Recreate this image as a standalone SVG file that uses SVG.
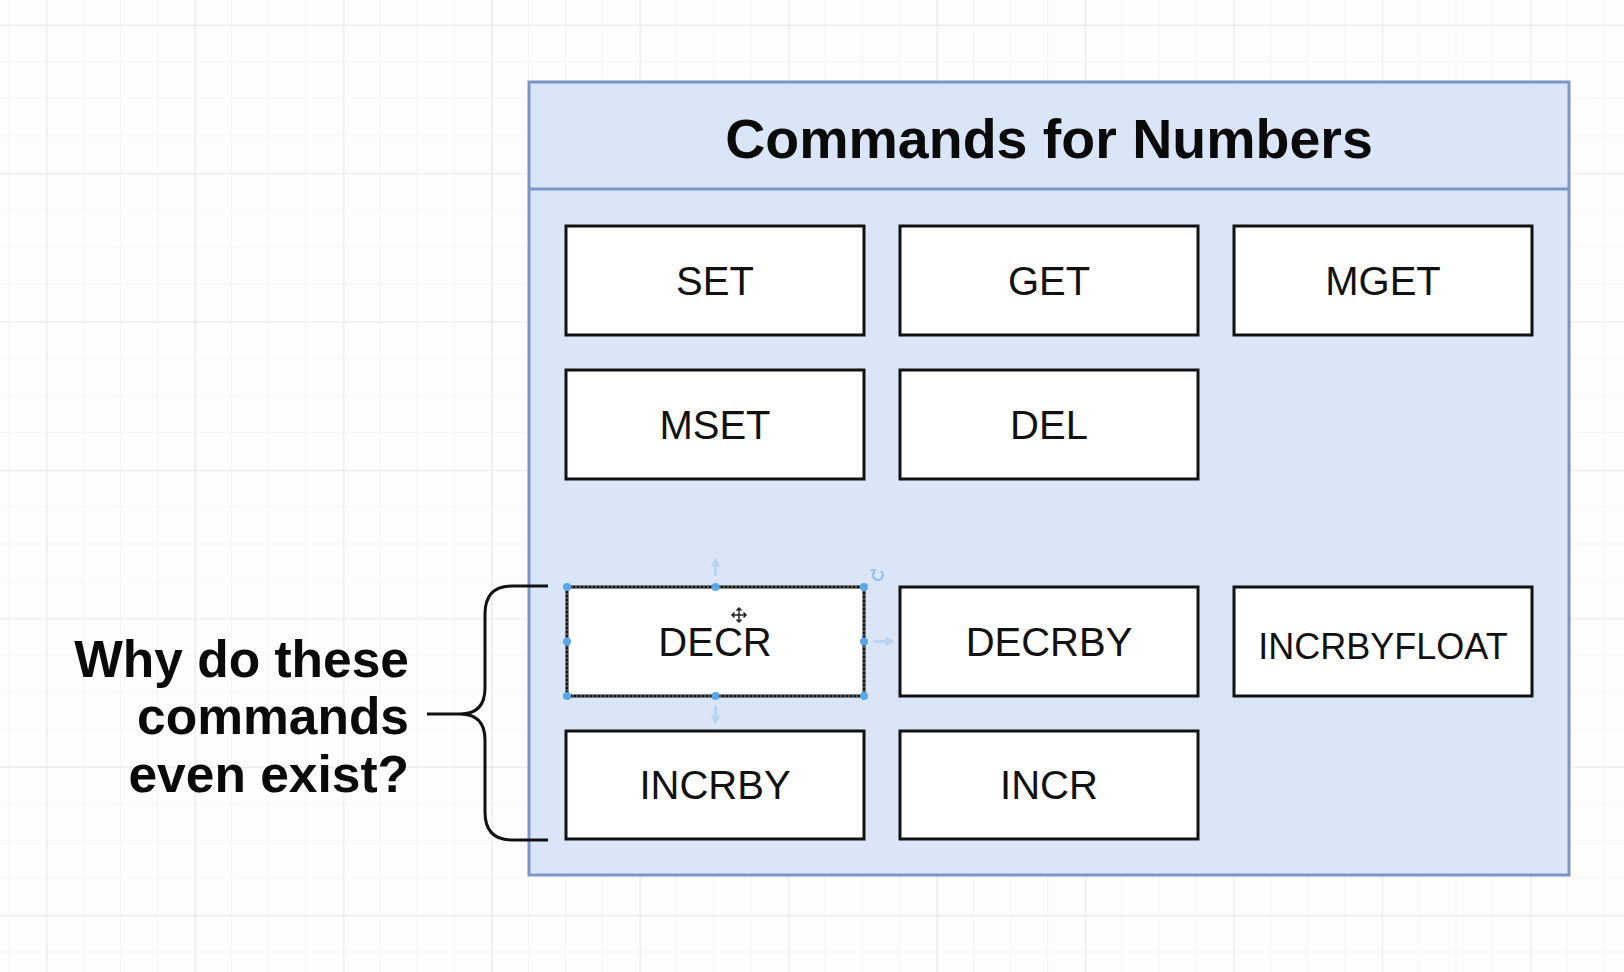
<svg xmlns="http://www.w3.org/2000/svg" width="1624" height="972" viewBox="0 0 1624 972">
  <defs>
    <pattern id="minor" x="9.5" y="25" width="37.1" height="37.1" patternUnits="userSpaceOnUse">
      <path d="M37.1 0 V37.1 M0 37.1 H37.1" fill="none" stroke="#f0f0f0" stroke-width="1.2"/>
    </pattern>
    <pattern id="major" x="46.6" y="25" width="148.4" height="148.4" patternUnits="userSpaceOnUse">
      <path d="M0 0 V148.4 M0 0 H148.4" fill="none" stroke="#e6e6e6" stroke-width="1.5"/>
    </pattern>
    <marker id="ah" viewBox="0 0 10 10" refX="5" refY="5" markerWidth="3.2" markerHeight="3.2" orient="auto">
      <path d="M0 0 L10 5 L0 10 z" fill="#b9d5f2"/>
    </marker>
    <style>
      .box { fill: #ffffff; stroke: #111111; stroke-width: 3; }
      .lbl { font-family: "Liberation Sans", Arial, sans-serif; font-size: 40px; fill: #111111; text-anchor: middle; }
      .title { font-family: "Liberation Sans", Arial, sans-serif; font-size: 55.5px; font-weight: bold; fill: #0a0a0a; text-anchor: middle; }
      .note { font-family: "Liberation Sans", Arial, sans-serif; font-size: 51.5px; font-weight: bold; fill: #0a0a0a; text-anchor: end; }
      .handle { fill: #5aa7e6; }
      .ghost { stroke: #b9d5f2; stroke-width: 3; fill: none; }
    </style>
  </defs>

  <rect width="1624" height="972" fill="#fdfdfd"/>
  <rect width="1624" height="972" fill="url(#minor)"/>
  <rect width="1624" height="972" fill="url(#major)"/>

  <g id="container">
    <rect x="529" y="82" width="1040" height="793" fill="#dae6f8" stroke="#7b96c6" stroke-width="3"/>
    <line x1="529" y1="189" x2="1569" y2="189" stroke="#7b96c6" stroke-width="3"/>
    <text class="title" x="1049" y="158">Commands for Numbers</text>
  </g>

  <g id="node-set"><rect class="box" x="566" y="226" width="298" height="109"/><text class="lbl" x="715" y="295">SET</text></g>
  <g id="node-get"><rect class="box" x="900" y="226" width="298" height="109"/><text class="lbl" x="1049" y="295">GET</text></g>
  <g id="node-mget"><rect class="box" x="1234" y="226" width="298" height="109"/><text class="lbl" x="1383" y="295">MGET</text></g>
  <g id="node-mset"><rect class="box" x="566" y="370" width="298" height="109"/><text class="lbl" x="715" y="439">MSET</text></g>
  <g id="node-del"><rect class="box" x="900" y="370" width="298" height="109"/><text class="lbl" x="1049" y="439">DEL</text></g>

  <g id="node-decr">
    <rect class="box" x="567" y="587" width="297" height="109"/>
    <rect x="567" y="587" width="297" height="109" fill="none" stroke="#9a9a9a" stroke-width="1" stroke-dasharray="2 2"/>
    <text class="lbl" x="715" y="656">DECR</text>
    <g id="selection">
      <line class="ghost" x1="715.5" y1="576" x2="715.5" y2="562" marker-end="url(#ah)"/>
      <line class="ghost" x1="874" y1="641.5" x2="890" y2="641.5" marker-end="url(#ah)"/>
      <line class="ghost" x1="715.5" y1="706" x2="715.5" y2="720" marker-end="url(#ah)"/>
      <path d="M881 571 A5 5 0 1 1 873.5 572.5" fill="none" stroke="#8fbfec" stroke-width="2"/>
      <path d="M870.5 570.5 L874.5 570 L874 574" fill="none" stroke="#8fbfec" stroke-width="1.8"/>
      <circle class="handle" cx="567" cy="587" r="4"/>
      <circle class="handle" cx="715.5" cy="587" r="4"/>
      <circle class="handle" cx="864" cy="587" r="4"/>
      <circle class="handle" cx="567" cy="641.5" r="4"/>
      <circle class="handle" cx="864" cy="641.5" r="4"/>
      <circle class="handle" cx="567" cy="696" r="4"/>
      <circle class="handle" cx="715.5" cy="696" r="4"/>
      <circle class="handle" cx="864" cy="696" r="4"/>
      <path d="M739 608 V622 M732 615 H746 M736.5 610.5 L739 608 L741.5 610.5 M736.5 619.5 L739 622 L741.5 619.5 M734.5 612.5 L732 615 L734.5 617.5 M743.5 612.5 L746 615 L743.5 617.5" fill="none" stroke="#222" stroke-width="1.5"/>
    </g>
  </g>
  <g id="node-decrby"><rect class="box" x="900" y="587" width="298" height="109"/><text class="lbl" x="1049" y="656">DECRBY</text></g>
  <g id="node-incrbyfloat"><rect class="box" x="1234" y="587" width="298" height="109"/><text class="lbl" x="1383" y="659" style="font-size:36px">INCRBYFLOAT</text></g>
  <g id="node-incrby"><rect class="box" x="566" y="731" width="298" height="108"/><text class="lbl" x="715" y="799">INCRBY</text></g>
  <g id="node-incr"><rect class="box" x="900" y="731" width="298" height="108"/><text class="lbl" x="1049" y="799">INCR</text></g>

  <g id="note">
    <text class="note" x="409" y="677">Why do these</text>
    <text class="note" x="409" y="734">commands</text>
    <text class="note" x="409" y="792">even exist?</text>
  </g>

  <g id="connectors">
    <path d="M548 586 H512 Q485 586 485 614 V688 Q485 714 460 714 H427 M460 714 Q485 714 485 740 V812 Q485 840 512 840 H548" fill="none" stroke="#111" stroke-width="3"/>
  </g>
</svg>
